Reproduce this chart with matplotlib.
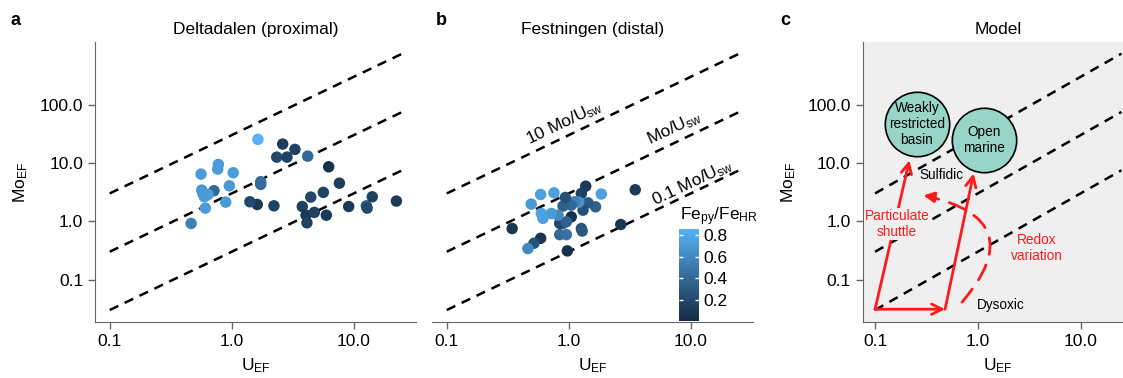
import numpy as np
import matplotlib
matplotlib.use("Agg")
import matplotlib.pyplot as plt
from matplotlib.colors import LinearSegmentedColormap, Normalize
from matplotlib.patches import FancyArrowPatch

plt.rcParams['font.family'] = ['Liberation Sans', 'DejaVu Sans']
plt.rcParams['mathtext.fontset'] = 'custom'
plt.rcParams['mathtext.rm'] = 'Liberation Sans'
plt.rcParams['mathtext.it'] = 'Liberation Sans:italic'
plt.rcParams['font.size'] = 12.5

# Deltadalen (proximal): U_EF, Mo_EF, Fe_py/Fe_HR
delta_u = [1.64, 2.62, 3.30, 2.34, 2.84, 4.20, 6.24, 7.64, 5.64, 4.45, 3.79, 4.07, 4.14,
           4.76, 5.97, 9.1, 12.7, 12.9, 14.2, 22.4, 2.22, 1.62, 1.41, 1.73, 1.73, 1.03,
           0.957, 0.894, 0.778, 0.768, 0.561, 0.568, 0.716, 0.64, 0.597, 0.608, 0.465, 0.58]
delta_mo = [25.4, 21.1, 17.1, 12.6, 12.6, 13.1, 8.6, 4.5, 3.13, 2.6, 1.79, 1.27, 0.94,
            1.42, 1.27, 1.79, 1.84, 1.68, 2.63, 2.22, 1.84, 1.94, 2.16, 4.29, 4.77, 6.8,
            4.06, 2.13, 9.44, 7.85, 6.44, 3.43, 3.34, 2.88, 2.63, 1.68, 0.916, 3.0]
delta_fe = [0.85, 0.12, 0.15, 0.2, 0.15, 0.4, 0.05, 0.12, 0.15, 0.2, 0.15, 0.1, 0.15,
            0.15, 0.1, 0.1, 0.3, 0.2, 0.15, 0.1, 0.15, 0.08, 0.2, 0.4, 0.42, 0.72,
            0.7, 0.7, 0.72, 0.72, 0.72, 0.7, 0.4, 0.72, 0.72, 0.72, 0.55, 0.7]

# Festningen (distal)
fest_u = [3.51, 2.67, 1.85, 1.66, 1.38, 1.27, 1.44, 1.31, 1.27, 1.29, 1.21, 1.11, 1.05,
          0.957, 0.898, 0.939, 1.05, 0.898, 0.844, 0.957, 0.844, 0.957, 0.975, 0.817,
          0.721, 0.596, 0.615, 0.493, 0.589, 0.757, 0.344, 0.589, 0.519, 0.463]
fest_mo = [3.47, 0.88, 2.93, 1.77, 4.0, 3.0, 2.07, 1.55, 0.75, 0.68, 2.13, 2.16, 1.89,
           2.02, 1.82, 2.56, 1.19, 0.92, 0.92, 0.98, 0.59, 0.59, 0.31, 1.27,
           1.36, 1.36, 1.12, 1.97, 2.88, 3.08, 0.75, 0.51, 0.42, 0.34]
fest_fe = [0.1, 0.08, 0.75, 0.35, 0.1, 0.15, 0.3, 0.25, 0.25, 0.3, 0.65, 0.55, 0.4,
           0.4, 0.35, 0.25, 0.05, 0.3, 0.2, 0.35, 0.4, 0.45, 0.05, 0.6,
           0.7, 0.75, 0.75, 0.7, 0.75, 0.75, 0.08, 0.08, 0.25, 0.6]

# Mo/U seawater reference lines (multiples of the seawater ratio)
sw_factors = [30.0, 3.0, 0.3]
sw_labels = ['10 Mo/U$_{\\mathrm{sw}}$', 'Mo/U$_{\\mathrm{sw}}$', '0.1 Mo/U$_{\\mathrm{sw}}$']
line_u = np.array([0.1, 25.0])

cmap = LinearSegmentedColormap.from_list('gg', ['#132B43', '#56B1F7'])
norm = Normalize(vmin=0.006, vmax=0.855)

xlim = (0.0758, 32.4)
ylim = (0.01866, 1191)
ticks = [0.1, 1.0, 10.0]
yticks = [0.1, 1.0, 10.0, 100.0]
spine_col = '#666666'

fig = plt.figure(figsize=(11.23, 3.78), dpi=100)
ax_a = fig.add_axes([0.0846, 0.148, 0.2858, 0.741])
ax_b = fig.add_axes([0.3847, 0.148, 0.2858, 0.741])
ax_c = fig.add_axes([0.7682, 0.148, 0.2407, 0.741])


def style(ax, left=True):
    ax.set_xscale('log')
    ax.set_yscale('log')
    ax.set_xlim(*xlim)
    ax.set_ylim(*ylim)
    ax.set_xticks(ticks)
    ax.set_xticklabels(['0.1', '1.0', '10.0'])
    ax.minorticks_off()
    for s in ['top', 'right']:
        ax.spines[s].set_visible(False)
    ax.spines['bottom'].set_color(spine_col)
    ax.spines['left'].set_color(spine_col)
    ax.tick_params(colors=spine_col, labelcolor='black', length=5, width=1, labelsize=12.5)
    if left:
        ax.set_yticks(yticks)
        ax.set_yticklabels(['0.1', '1.0', '10.0', '100.0'])
        ax.set_ylabel('Mo$_{\\mathrm{EF}}$', fontsize=12.5, labelpad=7)
    else:
        ax.spines['left'].set_visible(False)
        ax.set_yticks([])
    ax.set_xlabel('U$_{\\mathrm{EF}}$', fontsize=12.5, labelpad=5)
    for f in sw_factors:
        ax.plot(line_u, f * line_u, color='black', lw=1.8, ls=(0, (3.8, 2.8)), zorder=1)


style(ax_a)
style(ax_b, left=False)
style(ax_c)

ax_a.set_title('Deltadalen (proximal)', fontsize=12.5, pad=6)
ax_b.set_title('Festningen (distal)', fontsize=12.5, pad=6)
ax_c.set_title('Model', fontsize=12.5, pad=6)

ax_a.scatter(delta_u, delta_mo, c=delta_fe, cmap=cmap, norm=norm, s=68, lw=0, zorder=3)
sc = ax_b.scatter(fest_u, fest_mo, c=fest_fe, cmap=cmap, norm=norm, s=68, lw=0, zorder=3)

# labels along the seawater lines
lab_pos = [(0.914, 48.0), (7.3, 39.6), (10.4, 4.6)]
for (u, m), t in zip(lab_pos, sw_labels):
    ax_b.text(u, m, t, rotation=25.4, ha='center', va='center',
              rotation_mode='anchor', fontsize=12.5)

# colour bar
cax = fig.add_axes([0.6046, 0.1508, 0.0178, 0.2434])
cb = fig.colorbar(sc, cax=cax, ticks=[0.2, 0.4, 0.6, 0.8])
cb.outline.set_visible(False)
cax.tick_params(length=3, width=1, colors='white', direction='in',
                labelcolor='black', labelsize=12.5, pad=3, left=True)
cax.set_ylim(0.006, 0.855)
fig.text(0.6055, 0.418, 'Fe$_{\\mathrm{py}}$/Fe$_{\\mathrm{HR}}$', fontsize=12.5,
         ha='left', va='baseline')

# model panel
ax_c.set_facecolor('#efefef')
circ_u = [0.255, 1.16]
circ_mo = [46.5, 24.6]
circ_text = ['Weakly\nrestricted\nbasin', 'Open\nmarine']
ax_c.scatter(circ_u, circ_mo, s=2150, facecolor='#97d6c7', edgecolor='black', lw=1.2, zorder=4)
for u, m, t in zip(circ_u, circ_mo, circ_text):
    ax_c.text(u, m, t, ha='center', va='center', fontsize=9.8, linespacing=1.15, zorder=5)
ax_c.text(0.447, 6.1, 'Sulfidic', ha='center', va='center', fontsize=9.8)
ax_c.text(1.69, 0.0366, 'Dysoxic', ha='center', va='center', fontsize=9.8)

red = '#ff1a1a'
arrows = [((0.1, 0.031), (0.48, 0.031)),
          ((0.1, 0.031), (0.216, 11.1)),
          ((0.48, 0.031), (0.91, 6.6))]
for start, end in arrows:
    ax_c.annotate('', xy=end, xytext=start,
                  arrowprops=dict(arrowstyle='->,head_length=0.6,head_width=0.3',
                                  color=red, lw=2, shrinkA=0, shrinkB=0), zorder=3)

curve = FancyArrowPatch((0.674, 0.0377), (0.30, 2.77), connectionstyle='arc3,rad=0.85',
                        arrowstyle='-', color=red, lw=2, ls=(0, (6, 4)), zorder=3)
ax_c.add_patch(curve)
ax_c.annotate('', xy=(0.296, 2.77), xytext=(0.371, 2.60),
              arrowprops=dict(arrowstyle='-|>,head_length=0.5,head_width=0.25',
                              color=red, lw=2, shrinkA=0, shrinkB=0), zorder=3)

ax_c.text(0.163, 0.90, 'Particulate\nshuttle', color=red, ha='center', va='center',
          fontsize=9.8, zorder=4,
          bbox=dict(facecolor='#efefef', edgecolor='none', pad=0.5))
ax_c.text(3.73, 0.347, 'Redox\nvariation', color=red, ha='center', va='center',
          fontsize=9.8, zorder=4)

for x, lab in [(0.009, 'a'), (0.388, 'b'), (0.695, 'c')]:
    fig.text(x, 0.934, lab, fontsize=13, fontweight='bold', va='baseline')

fig.savefig('out.png', dpi=100)
